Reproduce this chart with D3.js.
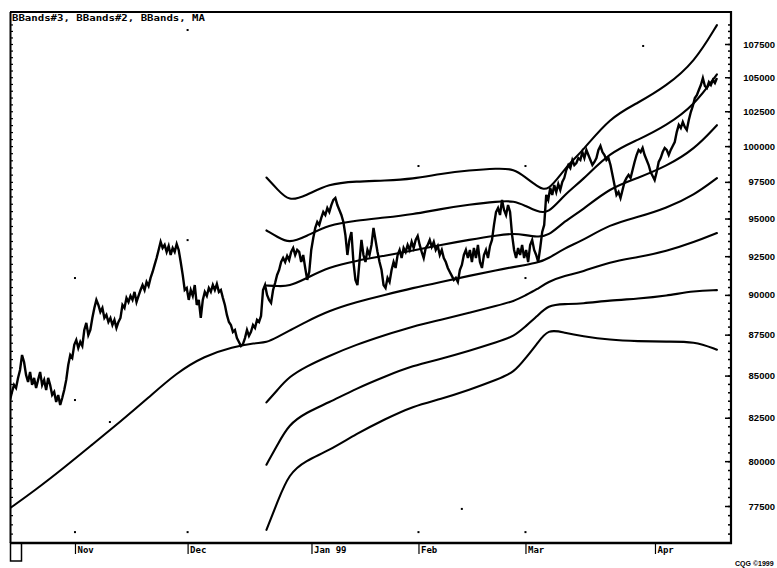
<!DOCTYPE html>
<html><head><meta charset="utf-8">
<script src="https://cdn.jsdelivr.net/npm/d3@7"></script>
<style>body{margin:0;background:#fff}svg{display:block}</style>
</head><body><svg id="c" width="777" height="568"></svg>
<script>
// ---------- DATA ----------
const titleText = "BBands#3, BBands#2, BBands, MA";
const monthLabels = ["Nov", "Dec", "Jan 99", "Feb", "Mar", "Apr"];
const monthDays = [0, 20, 42, 61, 80, 103];           // trading-day index of each month start
const yTickValues = [77500, 80000, 82500, 85000, 87500, 90000, 92500, 95000, 97500, 100000, 102500, 105000, 107500];
const copyrightText = "CQG \u00A91999";

// price, evenly spaced in trading days from priceStartDay to priceEndDay
const priceStartDay = -11.54, priceEndDay = 114.0;
const price = [
83550,84020,84440,84260,84860,85340,86250,85820,85040,84620,85220,84440,84860,84260,84740,85220,84440,84740,84140,84860,84440,83840,84020,83430,83840,83250,
83660,84140,84740,85640,86250,86070,86870,87170,86680,87050,86800,87790,88230,87480,87790,88540,89170,89680,89360,88920,89170,88540,88730,88290,88540,88100,88420,87920,
88290,88540,89360,89170,89810,89550,89940,89680,90190,89550,89940,90310,90630,90310,90830,90570,91090,91470,91930,92380,92910,93440,93040,93240,92780,93170,92580,93040,92780,93300,92910,
92120,91280,90310,90440,89680,90310,89940,90630,89360,89680,88540,89680,90190,89940,90440,90190,90630,90310,90700,90190,90310,89810,89360,88730,88290,88100,87670,87790,87290,87050,86800,86920,87290,87790,87420,87670,88100,87920,88420,88290,88670,
90310,90630,90000,89680,89490,90310,90760,91280,91600,92120,92380,92120,92520,92250,92780,93040,92580,92910,92780,92120,92580,91730,90960,91470,92910,93700,94370,94770,94570,95040,95440,95240,95710,95440,95910,96260,96390,95910,95580,95240,94770,
93900,92580,93570,94100,92120,90960,90630,92120,93570,92580,92120,92910,92580,93240,94370,93570,92780,92120,91600,90630,90440,91090,90830,91600,92120,91730,92580,92910,92380,93040,92780,93240,92910,93440,93040,93570,93830,93240,92780,92380,93040,93240,93570,93110,93440,92910,93170,92580,92910,92380,
92120,91730,91470,91220,90960,91090,90830,91600,91930,92580,92910,92380,92910,92120,93040,92380,93240,92120,91730,92580,92910,92380,93170,93570,94570,95440,95710,95240,96260,95580,95240,95910,95440,93900,92910,92380,93040,92580,93240,92380,92910,92120,93240,93570,92910,92580,92120,93040,94100,94570,
96600,96260,97080,96600,97280,96800,97350,96940,97490,97770,98320,98670,98460,99020,98670,98810,99160,99020,99580,99160,99730,99370,99020,98670,98880,99160,99730,100010,99580,99370,99020,99160,98670,97980,97280,96600,96800,96390,96940,97490,97770,97980,97770,98320,98880,99370,99730,99580,99870,99370,
99020,98670,98180,97910,97630,98180,98880,99160,99580,99870,99730,99370,99730,100010,100290,101000,101510,101290,101720,101370,101150,101870,102440,102880,103460,103680,104050,104420,104940,104350,104200,104640,104420,104790,104570,104940
];

// moving average
const maDays = [-11.5,-7,-2,3,8,13,18,23,28,32,34,36,38,41,45,50,55,60,65,70,75,78,80,82,84,87,90,95,100,105,110,114];
const ma = [77390,78390,79620,80930,82260,83660,85160,86190,86740,86990,87000,87360,87730,88290,88980,89550,90000,90440,90830,91220,91600,91800,91930,92060,92320,93040,93500,94610,95100,95700,96600,97760];

// bands
const bandDays = [34,36,38,41,45,50,55,60,65,70,75,78,80,82,84,87,90,95,100,105,110,114];
const upper3 = [97800,96960,96160,96540,97380,97530,97590,97700,98060,98300,98440,98400,97810,97220,96760,98470,99590,102050,103110,104340,106110,108950];
const upper2 = [94200,93760,93350,93790,94580,94870,95060,95280,95650,95940,96160,96200,95850,95500,95280,96660,97560,99570,100440,101460,102940,105220];
const upper1 = [90600,90560,90540,91040,91780,92210,92530,92860,93240,93580,93880,94000,93890,93780,93800,94850,95530,97090,97770,98580,99770,101490];
const lower1 = [83400,84160,84920,85540,86180,86890,87470,88020,88420,88860,89320,89600,89970,90340,90840,91230,91470,92130,92430,92820,93430,94030];
const lower2 = [79800,80960,82110,82790,83380,84230,84940,85600,86010,86500,87040,87400,88010,88620,89360,89420,89440,89650,89760,89940,90260,90300];
const lower3 = [76200,77760,79300,80040,80580,81570,82410,83180,83600,84140,84760,85200,86050,86900,87880,87610,87410,87170,87090,87060,87090,86570];

// loose grid dots seen on the print: [trading day, value]
const gridDots = [[0,91080],[0,83540],[0,76080],[20,108570],[20,93560],[20,76080],[61,98600],[61,76080],[80,98600],[80,91080],[80,76080],[6.2,82250],[68.7,77340],[100.9,107350]];

// ---------- DRAW ----------
const svg = d3.select("#c");
const L = 10, R = 731, T = 12, B = 543;
const x = d3.scaleLinear().domain([-11.54, 116.5]).range([L, R]);
const y = d3.scaleLog().domain([77500, 107500]).range([506, 44]);

svg.append("clipPath").attr("id", "pc").append("rect")
  .attr("x", L).attr("y", T).attr("width", R - L).attr("height", B - T);
const lines = svg.append("g").attr("clip-path", "url(#pc)");

const smooth = d3.line().x(d => x(d[0])).y(d => y(d[1])).curve(d3.curveBasis);
const rawLine = d3.line().x(d => x(d[0])).y(d => y(d[1]));

// grid dots
lines.selectAll("rect.dot").data(gridDots).join("rect").attr("class", "dot")
  .attr("x", d => x(d[0]) - 1).attr("y", d => y(d[1]) - 1).attr("width", 2).attr("height", 2).attr("fill", "#000");

const stepP = (priceEndDay - priceStartDay) / (price.length - 1);
const priceData = price.map((v, i) => [priceStartDay + i * stepP, v]);

function drawSeries(days, vals, w) {
  const pts = days.map((d, i) => [d, vals[i]]);
  const ext = [pts[0], ...pts, pts[pts.length - 1]];
  lines.append("path").datum(ext)
    .attr("d", smooth).attr("fill", "none").attr("stroke", "#000")
    .attr("stroke-width", w).attr("stroke-linejoin", "round").attr("stroke-linecap", "round");
}
drawSeries(maDays, ma, 2.1);
[upper3, upper2, upper1, lower1, lower2, lower3].forEach(s => drawSeries(bandDays, s, 2.1));
lines.append("path").datum(priceData).attr("d", rawLine).attr("fill", "none")
  .attr("stroke", "#000").attr("stroke-width", 2.4).attr("stroke-linejoin", "miter");

// frame
const frame = svg.append("g").attr("stroke", "#000").attr("fill", "none");
frame.append("line").attr("x1", L).attr("x2", R + 1).attr("y1", T).attr("y2", T).attr("stroke-width", 2);
frame.append("line").attr("x1", L + 0.5).attr("x2", L + 0.5).attr("y1", T).attr("y2", B).attr("stroke-width", 2);

// right axis
const minorVals = d3.range(76000, 109500, 500);
const rAxisMinor = d3.axisRight(y).tickValues(minorVals).tickSize(-3).tickFormat("");
const rAxis = d3.axisRight(y).tickValues(yTickValues).tickSize(-6).tickFormat(d3.format("d"));
const gRm = svg.append("g").attr("transform", `translate(${R},0)`).call(rAxisMinor);
const gR = svg.append("g").attr("transform", `translate(${R},0)`).call(rAxis);
[gRm, gR].forEach(g => { g.select(".domain").remove(); g.selectAll("line").attr("stroke", "#000").attr("stroke-width", 1.5); });
gR.selectAll("text").attr("x", 44).attr("text-anchor", "end").attr("fill", "#000")
  .style("font", "bold 9.5px 'Liberation Sans', Arial, sans-serif");
svg.append("line").attr("x1", R).attr("x2", R).attr("y1", T - 1).attr("y2", B + 1)
  .attr("stroke", "#000").attr("stroke-width", 2.2);

// left inner minor ticks
const gL = svg.append("g").attr("transform", `translate(${L},0)`)
  .call(d3.axisLeft(y).tickValues(minorVals.filter(v => y(v) > T + 2 && y(v) < B - 2)).tickSize(-3).tickFormat(""));
gL.select(".domain").remove();
gL.selectAll("line").attr("stroke", "#000").attr("stroke-width", 1.2);

// bottom axis
const bAxis = d3.axisBottom(x).tickValues(monthDays).tickSize(11).tickFormat((d, i) => monthLabels[i]);
const gB = svg.append("g").attr("transform", `translate(0,${B})`).call(bAxis);
gB.select(".domain").remove();
gB.selectAll("line").attr("stroke", "#000").attr("stroke-width", 1.2);
gB.selectAll("text").attr("text-anchor", "start").attr("x", 2).attr("y", 4).attr("dy", "0.71em")
  .attr("fill", "#000").style("font", "bold 9px 'DejaVu Sans Mono', monospace");
svg.append("line").attr("x1", L).attr("x2", R + 1).attr("y1", B).attr("y2", B)
  .attr("stroke", "#000").attr("stroke-width", 2.6);

// bottom-left box
svg.append("rect").attr("x", L + 0.5).attr("y", B).attr("width", 11).attr("height", 18)
  .attr("fill", "none").attr("stroke", "#000").attr("stroke-width", 1.5);

// title
svg.append("text").attr("x", 12).attr("y", 20.5).text(titleText)
  .attr("textLength", 193).attr("lengthAdjust", "spacingAndGlyphs")
  .style("font", "bold 9px 'DejaVu Sans Mono', monospace").attr("fill", "#000");

// copyright
svg.append("text").attr("x", 735).attr("y", 566).text(copyrightText)
  .style("font", "bold 7px 'Liberation Sans', Arial, sans-serif").attr("fill", "#000");
</script>
</body></html>
